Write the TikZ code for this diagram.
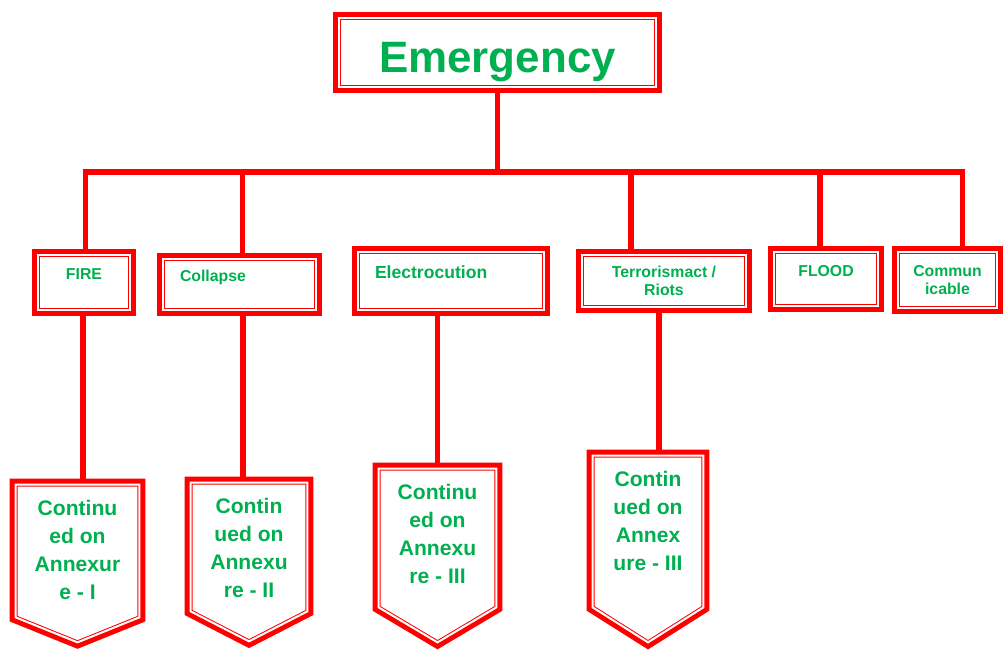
\documentclass[tikz,border=0pt]{standalone}
\usepackage{fontspec}
\setmainfont{Liberation Sans}
\usetikzlibrary{%
    backgrounds,
    calc
}
\newdimen\pxu
\pxu=0.02cm
\definecolor{egreen}{RGB}{0,176,80}
\tikzset{
    rim/.style = {preaction={draw=red, line width=12\pxu}, fill=white,
        draw=red, line width=1\pxu, double=white, double distance=2\pxu},
    link/.style = {draw=red, line width=5.5\pxu}
}

\begin{document}
\begin{tikzpicture}[x=0.02cm, y=-0.02cm,
    box/.style = {rim, rectangle, outer sep=0pt, inner sep=0pt,
        text=egreen, align=center, font=\bfseries\fontsize{9}{10}\selectfont},
    lift/.style = {text height=0pt, text depth=#1\pxu},
    tag/.style = {text=egreen, align=center, inner sep=0pt,
        minimum height=130\pxu, font=\bfseries\fontsize{12}{16}\selectfont}]
    \useasboundingbox (0,0) rectangle (1003,651);

    \node[box, minimum width=317\pxu, minimum height=69\pxu,
        text height=40\pxu, text depth=0pt,
        font=\bfseries\fontsize{25}{30}\selectfont] (emg) at (497.5,52.5) {Emergency};

    \node[box, lift=5, minimum width=92\pxu, minimum height=55\pxu]
        (fire) at (84,282.5) {FIRE};
    \node[box, lift=5, minimum width=153\pxu, minimum height=51\pxu,
        text width=119\pxu, align=left] (coll) at (239.5,284.5) {Collapse};
    \node[box, lift=5, minimum width=186\pxu, minimum height=58\pxu,
        text width=152\pxu, align=left, font=\bfseries\fontsize{10}{12}\selectfont]
        (elec) at (451,281) {Electrocution};
    \node[box, minimum width=164\pxu, minimum height=52\pxu]
        (terr) at (664,281) {Terrorismact /\\Riots};
    \node[box, lift=5, minimum width=104\pxu, minimum height=54\pxu]
        (flood) at (826,279) {FLOOD};
    \node[box, minimum width=99\pxu, minimum height=56\pxu]
        (comm) at (947.5,280) {Commun\\icable};

    % continuation tags
    \node[tag, minimum width=123\pxu] (c1) at (77.5,550) {Continu\\ed on\\Annexur\\e - I};
    \node[tag, minimum width=116\pxu] (c2) at (249,548) {Contin\\ued on\\Annexu\\re - II};
    \node[tag, minimum width=117\pxu] (c3) at (437.5,534) {Continu\\ed on\\Annexu\\re - III};
    \node[tag, minimum width=110\pxu] (c4) at (648,521) {Contin\\ued on\\Annex\\ure - III};

    \begin{scope}[on background layer]
        \coordinate (bus) at (497.5,172);
        \draw[link] (emg) -- (bus);
        \foreach \n/\dx in {fire/1.5, coll/3, terr/-33, flood/-6, comm/15}
            \draw[link] (bus) -| ($(\n)+(\dx,0)$);
        \foreach \n/\c/\dx in {fire/c1/-1, coll/c2/3.5, terr/c4/-5}
            \draw[link] ($(\n)+(\dx,0)$) |- (\c);
        \draw[link] (c3) |- (elec);

        \foreach \c/\lo/\tip in {c1/2/25, c2/-2/30, c3/8/35, c4/21/35}
            \draw[rim] (\c.north west) -- (\c.north east)
                -- ($(\c.south east)+(0,\lo)$) -- ($(\c.south)+(0,\lo+\tip)$)
                -- ($(\c.south west)+(0,\lo)$) -- cycle;
    \end{scope}
\end{tikzpicture}
\end{document}
